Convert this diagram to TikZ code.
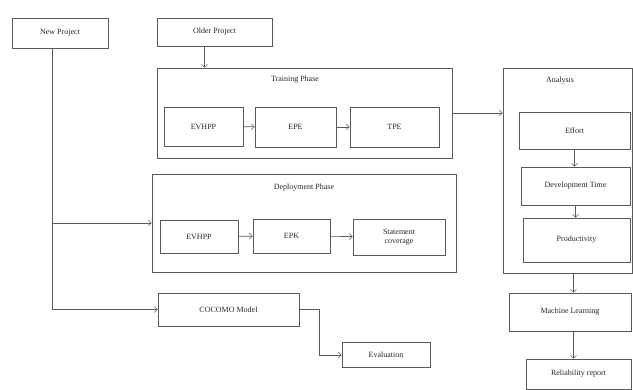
\documentclass[tikz,border=0pt]{standalone}
\usepackage{fontspec}
\setmainfont{Liberation Serif}
\usetikzlibrary{arrows.meta}
\tikzset{
  box/.style={draw=black!65, line width=0.6pt, text=black!85, minimum width=#1, align=center, inner sep=1pt},
  title/.style={text=black!85, inner sep=1pt},
  flow/.style={draw=black!65, line width=0.6pt, -{Straight Barb[length=3pt,width=6pt]}},
}
\begin{document}
\begin{tikzpicture}[x=1pt, y=-1pt, font=\fontsize{8}{9.5}\selectfont]
      \useasboundingbox (0,0) rectangle (633,390);
      \draw
        (60,33) node[box=96pt, minimum height=30pt] (newproj){New Project}
        (214.5,32) node[box=115pt, minimum height=28pt] (oldproj){Older Project}
        (304.5,113) node[box=295pt, minimum height=90pt] (train){}
        (295,80) node[title] (traintitle){Training Phase}
        (203.5,126.5) node[box=79pt, minimum height=39pt] (tevhpp){EVHPP}
        (295.5,127) node[box=81pt, minimum height=40pt] (tepe){EPE}
        (394.5,127) node[box=89pt, minimum height=40pt] (ttpe){TPE}
        (304,223) node[box=304pt, minimum height=98pt] (dep){}
        (304,188) node[title] (deptitle){Deployment Phase}
        (199,236.5) node[box=78pt, minimum height=33pt] (devhpp){EVHPP}
        (291.5,236) node[box=77pt, minimum height=34pt] (depk){EPK}
        (399,237) node[box=92pt, minimum height=36pt] (dstat){Statement\\coverage}
        (567.5,170.5) node[box=129pt, minimum height=205pt] (analysis){}
        (560,81) node[title] (antitle){Analysis}
        (574.5,130.5) node[box=111pt, minimum height=37pt] (effort){Effort}
        (575.5,186) node[box=109pt, minimum height=38pt] (devtime){Development Time}
        (576.5,240) node[box=107pt, minimum height=44pt] (prod){Productivity}
        (570,312) node[box=122pt, minimum height=38pt] (ml){Machine Learning}
        (578.5,374) node[box=105pt, minimum height=30pt] (rel){Reliability report}
        (228.5,309.5) node[box=141pt, minimum height=33pt] (cocomo){COCOMO Model}
        (386,355) node[box=88pt, minimum height=25pt] (eval){Evaluation};
      \coordinate (npdown) at ([xshift=-8pt]newproj.south);
      \coordinate (oldout) at ([xshift=-10pt]oldproj.south);
      \coordinate (anout) at ([xshift=6pt]analysis.south);
      \begin{scope}[flow]
        \draw (oldout) to (oldout |- train.north);
        \draw (tevhpp) to (tepe);
        \draw (tepe) to (ttpe);
        \draw (train.east) to (train.east -| analysis.west);
        \draw (devhpp) to (depk);
        \draw (depk) to (dstat);
        \draw (npdown) |- (cocomo.west);
        \draw (npdown |- dep.west) to (dep.west);
        \draw (effort.south) to (effort.south |- devtime.north);
        \draw (devtime.south) to (devtime.south |- prod.north);
        \draw (anout) to (anout |- ml.north);
        \draw (anout |- ml.south) to (anout |- rel.north);
        \draw (cocomo.east) -- ++(20,0) |- (eval.west);
      \end{scope}
    \end{tikzpicture}
\end{document}
